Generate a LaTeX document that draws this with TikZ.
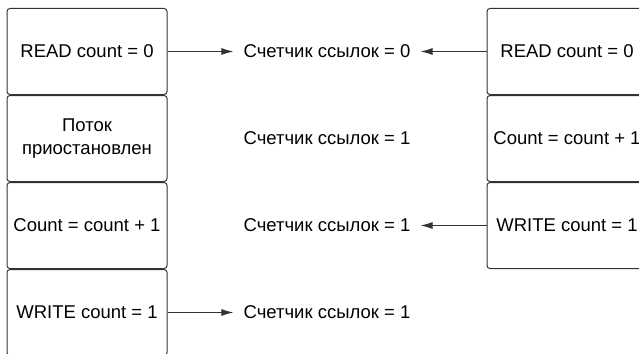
\documentclass[tikz,border=0pt]{standalone}
\usepackage{fontspec}
\setmainfont{Liberation Sans}
\usetikzlibrary{positioning}
\usetikzlibrary{arrows.meta}
\tikzset{>={Latex[length=12pt,width=7pt]}}
\tikzset{
	stepbox/.style={draw=black!80,line width=1pt,rounded corners=3pt,minimum width=160pt,minimum height=86pt,align=center,font=\fontsize{18.5}{23}\selectfont},
	counter/.style={inner sep=10pt,font=\fontsize{18.5}{23}\selectfont},
	link/.style={draw=black!80,line width=1pt,->}
}

\begin{document}
\begin{tikzpicture}[x=1pt,y=-1pt]
		\useasboundingbox (0,0) rectangle (639,353);
		\clip (0,0) rectangle (639,353);
		% first thread
		\node[stepbox] (l1) at (87,51.5) {READ count = 0};
		\node[stepbox,below=0pt of l1] (l2) {Поток\\приостановлен};
		\node[stepbox,below=0pt of l2] (l3) {Count = count + 1};
		\node[stepbox,below=0pt of l3] (l4) {WRITE count = 1};
		% second thread
		\node[stepbox] (r1) at (567,51.5) {READ count = 0};
		\node[stepbox,below=0pt of r1] (r2) {Count = count + 1};
		\node[stepbox,below=0pt of r2] (r3) {WRITE count = 1};
		% reference counter
		\node[counter] (c1) at (327,51.5) {Счетчик ссылок = 0};
		\node[counter] (c2) at (c1 |- l2) {Счетчик ссылок = 1};
		\node[counter] (c3) at (c1 |- l3) {Счетчик ссылок = 1};
		\node[counter] (c4) at (c1 |- l4) {Счетчик ссылок = 1};
		\draw[link] (l1.east) -- (c1.west);
		\draw[link] (r1.west) -- (c1.east);
		\draw[link] (r3.west) -- (c3.east);
		\draw[link] (l4.east) -- (c4.west);
	\end{tikzpicture}
\end{document}
